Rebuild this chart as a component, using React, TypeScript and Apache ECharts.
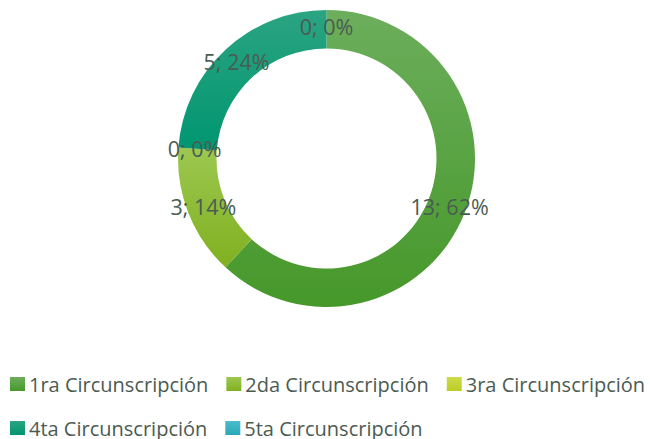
import React, { useEffect, useRef } from "react";
import * as echarts from "echarts";

const categories = [
  "1ra Circunscripción",
  "2da Circunscripción",
  "3ra Circunscripción",
  "4ta Circunscripción",
  "5ta Circunscripción",
];
const values = [13, 3, 0, 5, 0];
const topColors = ["#6cae5c", "#9cc850", "#cddc48", "#2ba482", "#4cbccc"];
const bottomColors = ["#46982a", "#80b020", "#bccc28", "#009670", "#2aa8b8"];

const TEXT = "#4b5b52";
const FONT = "'Open Sans', 'Noto Sans', sans-serif";

export default function App() {
  const ref = useRef<HTMLDivElement>(null);
  useEffect(() => {
    if (!ref.current) return;
    const chart = echarts.init(ref.current, undefined, { renderer: "svg" });
    const grad = (i: number) =>
      new echarts.graphic.LinearGradient(0, 0, 0, 1, [
        { offset: 0, color: topColors[i] },
        { offset: 1, color: bottomColors[i] },
      ]);
    const legendBase = {
      orient: "horizontal" as const,
      icon: "rect",
      itemWidth: 15,
      itemHeight: 14,
      itemGap: 18,
      left: 10,
      width: 640,
      padding: 0,
      textStyle: { color: TEXT, fontSize: 20, fontFamily: FONT, padding: [0, 0, 0, -1] },
    };
    chart.setOption({
      animation: false,
      backgroundColor: "#ffffff",
      legend: [
        { ...legendBase, top: 374, data: categories.slice(0, 3) },
        { ...legendBase, top: 418, data: categories.slice(3) },
      ],
      series: [
        {
          type: "pie",
          center: [326.5, 158.5],
          radius: [110, 148.5],
          startAngle: 90,
          clockwise: true,
          percentPrecision: 0,
          avoidLabelOverlap: false,
          label: {
            show: true,
            position: "inside",
            formatter: "{c}; {d}%",
            color: TEXT,
            fontSize: 21.5,
            fontFamily: FONT,
          },
          labelLine: { show: false },
          emphasis: { disabled: true },
          data: categories.map((name, i) => ({
            name,
            value: values[i],
            itemStyle: { color: grad(i) },
          })),
        },
      ],
    });
    return () => chart.dispose();
  }, []);
  return <div ref={ref} style={{ width: 650, height: 439, position: "absolute", left: 0, top: 0 }} />;
}
